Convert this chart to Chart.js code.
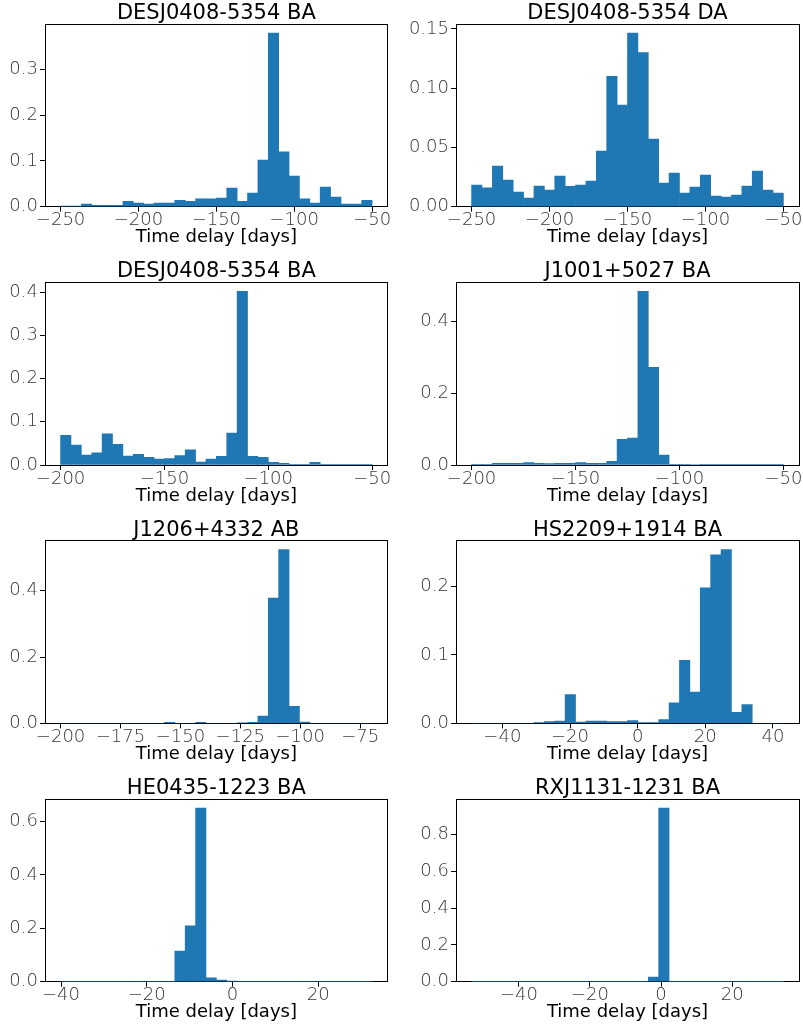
<!DOCTYPE html>
<html>
<head>
<meta charset="utf-8">
<script src="https://cdn.jsdelivr.net/npm/chart.js@4.4.1/dist/chart.umd.min.js"></script>
<style>
html, body { margin: 0; padding: 0; background: #ffffff; overflow: hidden; width: 803px; height: 1028px; }
canvas { position: absolute; }
</style>
</head>
<body>
<script>
// ---------------- DATA ----------------
const titles = [
  "DESJ0408-5354 BA", "DESJ0408-5354 DA",
  "DESJ0408-5354 BA", "J1001+5027 BA",
  "J1206+4332 AB", "HS2209+1914 BA",
  "HE0435-1223 BA", "RXJ1131-1231 BA"
];
const xLabel = "Time delay [days]";

// histogram bin ranges (first edge, last edge), 30 bins each
const binStart = [-250, -250, -200, -200, -200, -49.1, -40.1, -53.3];
const binEnd   = [ -50,  -50,  -50,  -50,  -70,  43.1,  32.6,  34.4];

// bin heights (density) per panel
const values1 = [0.001,0.001,0.006,0.003,0.003,0.003,0.012,0.008,0.006,0.008,0.008,0.014,0.012,0.017,0.017,0.019,0.041,0.012,0.030,0.102,0.380,0.120,0.067,0.017,0.008,0.043,0.021,0.006,0.006,0.014];
const values2 = [0.0183,0.016,0.0343,0.0225,0.0124,0.0073,0.0174,0.0141,0.0259,0.0172,0.0183,0.0217,0.047,0.110,0.0858,0.1466,0.130,0.0571,0.020,0.0284,0.0115,0.0166,0.0267,0.009,0.0082,0.0098,0.0174,0.0301,0.0141,0.0115];
const values3 = [0.069,0.046,0.023,0.028,0.072,0.048,0.021,0.025,0.018,0.014,0.015,0.022,0.035,0.007,0.014,0.020,0.074,0.402,0.020,0.018,0.006,0.004,0.0015,0.0015,0.006,0.0015,0.001,0.001,0.001,0.001];
const values4 = [0.002,0.002,0.005,0.005,0.005,0.007,0.005,0.004,0.005,0.005,0.007,0.005,0.005,0.010,0.072,0.075,0.485,0.273,0.028,0.002,0.002,0.0015,0.001,0.001,0.001,0.001,0.001,0.001,0.001,0.001];
const values5 = [0,0,0,0,0,0,0,0,0,0,0.003,0,0,0.003,0,0,0,0.001,0.003,0.022,0.378,0.524,0.051,0.004,0,0,0,0,0,0];
const values6 = [0,0,0,0,0,0,0.001,0.0025,0.0035,0.042,0.002,0.0035,0.0035,0.0025,0.0025,0.004,0.001,0.001,0.0055,0.030,0.092,0.0456,0.198,0.2466,0.254,0.016,0.0275,0,0,0];
const values7 = [0,0,0,0,0,0,0,0,0,0,0,0.115,0.209,0.651,0.014,0.006,0.001,0,0,0,0,0,0,0,0,0,0,0,0,0];
const values8 = [0,0,0,0,0,0,0,0,0,0,0,0,0,0,0,0,0,0.025,0.946,0,0,0,0,0,0,0,0,0,0,0];

// tick values
const xTicks1 = [-250, -200, -150, -100, -50];
const xTicks2 = [-250, -200, -150, -100, -50];
const xTicks3 = [-200, -150, -100, -50];
const xTicks4 = [-200, -150, -100, -50];
const xTicks5 = [-200, -175, -150, -125, -100, -75];
const xTicks6 = [-40, -20, 0, 20, 40];
const xTicks7 = [-40, -20, 0, 20];
const xTicks8 = [-40, -20, 0, 20];

const yTicks1 = [0.0, 0.1, 0.2, 0.3];
const yTicks2 = [0.00, 0.05, 0.10, 0.15];
const yTicks3 = [0.0, 0.1, 0.2, 0.3, 0.4];
const yTicks4 = [0.0, 0.2, 0.4];
const yTicks5 = [0.0, 0.2, 0.4];
const yTicks6 = [0.0, 0.1, 0.2];
const yTicks7 = [0.0, 0.2, 0.4, 0.6];
const yTicks8 = [0.0, 0.2, 0.4, 0.6, 0.8];
const yDecimals = [1, 2, 1, 1, 1, 1, 1, 1];

// ---------------- DRAWING ----------------
const allValues = [values1, values2, values3, values4, values5, values6, values7, values8];
const allXTicks = [xTicks1, xTicks2, xTicks3, xTicks4, xTicks5, xTicks6, xTicks7, xTicks8];
const allYTicks = [yTicks1, yTicks2, yTicks3, yTicks4, yTicks5, yTicks6, yTicks7, yTicks8];

const FAMILY = "'DejaVu Sans', 'Liberation Sans', sans-serif";
const BAR = '#1f77b4';
const TICK_COLOR = '#383838';

function fmtMinus(v, dec) {
  const s = dec === undefined ? String(Math.abs(v)) : Math.abs(v).toFixed(dec);
  return (v < 0 ? '\u2212' : '') + s;
}

function makeChart(i) {
  const col = i % 2, row = Math.floor(i / 2);
  const areaTop = 24.3 + 258.33 * row;
  const areaH = 182.4;
  const areaBottom = areaTop + areaH;
  const canvasTop = Math.floor(areaTop - 24.3 + 0.01);
  const H = 252;
  const canvasLeft = col === 0 ? 0 : 400;
  const W = col === 0 ? 420 : 403;
  const areaLeft = col === 0 ? 45 : 456;
  const areaRight = col === 0 ? 387.7 : 799;
  const yW = areaLeft - canvasLeft;
  const padRight = canvasLeft + W - areaRight;
  const padTop = areaTop - 24.3 - canvasTop;
  const xH = canvasTop + H - areaBottom;
  const titlePadBottom = Math.max(0, xH - 41.8);

  const cv = document.createElement('canvas');
  cv.width = W; cv.height = H;
  cv.style.left = canvasLeft + 'px';
  cv.style.top = canvasTop + 'px';
  cv.style.width = W + 'px';
  cv.style.height = H + 'px';
  document.body.appendChild(cv);

  const vals = allValues[i];
  const n = vals.length;
  const start = binStart[i], end = binEnd[i];
  const bw = (end - start) / n;
  const span = end - start;
  const xmin = start - 0.05 * span, xmax = end + 0.05 * span;
  const ymax = Math.max(...vals) * 1.05;
  const xt = allXTicks[i], yt = allYTicks[i], dec = yDecimals[i];

  new Chart(cv, {
    type: 'bar',
    data: {
      datasets: [{
        data: vals.map((v, k) => ({ x: start + (k + 0.5) * bw, y: v })),
        backgroundColor: BAR,
        borderWidth: 0,
        barPercentage: 1,
        categoryPercentage: 1
      }]
    },
    options: {
      responsive: false,
      animation: false,
      events: [],
      devicePixelRatio: 1,
      layout: { padding: { top: padTop, left: 0, right: padRight, bottom: 0 } },
      plugins: {
        legend: { display: false },
        tooltip: { enabled: false },
        title: {
          display: true,
          text: titles[i],
          color: '#000',
          fullSize: false,
          font: { family: FAMILY, size: 21, weight: 'normal', lineHeight: 1 },
          padding: { top: 2.9, bottom: 0.4 }
        }
      },
      scales: {
        x: {
          type: 'linear', position: 'bottom', min: xmin, max: xmax, offset: false,
          grid: { display: true, drawOnChartArea: false, drawTicks: true, tickLength: 5, color: '#000', lineWidth: 1, offset: false },
          border: { display: true, color: '#000', width: 1 },
          ticks: { font: { family: FAMILY, size: 18, weight: 300, lineHeight: 1.0 }, color: TICK_COLOR, padding: 0, maxRotation: 0, autoSkip: false,
                   callback: (v) => fmtMinus(v) },
          title: { display: true, text: xLabel, color: '#000', font: { family: FAMILY, size: 18 },
                   padding: { top: 0, bottom: titlePadBottom } },
          afterBuildTicks: (s) => { s.ticks = xt.map(v => ({ value: v })); },
          afterFit: (s) => { s.height = xH; s.paddingLeft = 0; s.paddingRight = 0; }
        },
        x2: {
          type: 'linear', position: 'top', min: xmin, max: xmax, offset: false,
          grid: { display: false }, ticks: { display: false },
          border: { display: true, color: '#000', width: 1 },
          afterFit: (s) => { s.height = 0; s.paddingLeft = 0; s.paddingRight = 0; }
        },
        y: {
          type: 'linear', position: 'left', min: 0, max: ymax,
          grid: { display: true, drawOnChartArea: false, drawTicks: true, tickLength: 5, color: '#000', lineWidth: 1 },
          border: { display: true, color: '#000', width: 1 },
          ticks: { font: { family: FAMILY, size: 18, weight: 300 }, color: TICK_COLOR, padding: 2,
                   callback: (v) => fmtMinus(v, dec) },
          afterBuildTicks: (s) => { s.ticks = yt.map(v => ({ value: v })); },
          afterFit: (s) => { s.width = yW; s.paddingTop = 0; s.paddingBottom = 0; }
        },
        y2: {
          type: 'linear', position: 'right', min: 0, max: ymax,
          grid: { display: false }, ticks: { display: false },
          border: { display: true, color: '#000', width: 1 },
          afterFit: (s) => { s.width = 0; s.paddingTop = 0; s.paddingBottom = 0; }
        }
      }
    }
  });
}

for (let i = 0; i < 8; i++) makeChart(i);
</script>
</body>
</html>
